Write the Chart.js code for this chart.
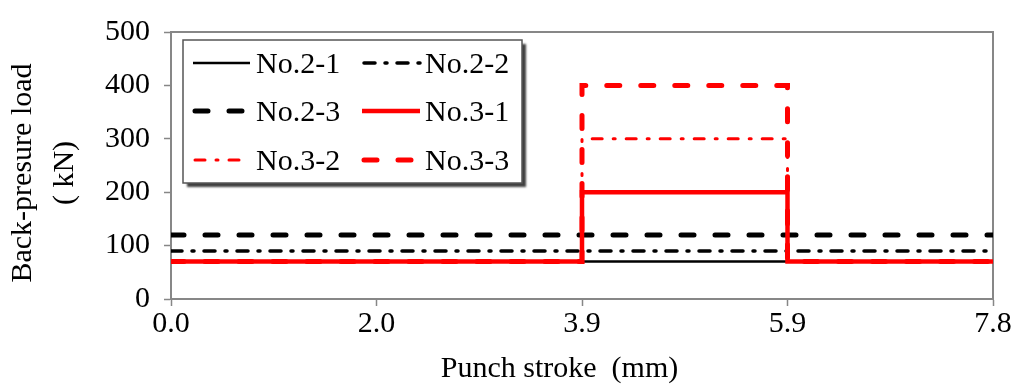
<!DOCTYPE html>
<html>
<head>
<meta charset="utf-8">
<script src="https://cdn.jsdelivr.net/npm/chart.js@4/dist/chart.umd.min.js"></script>
<style>
  html, body { margin: 0; padding: 0; background: #fff; }
  #wrap { width: 1011px; height: 388px; }
</style>
</head>
<body>
<div id="wrap"><canvas id="c" width="1011" height="388"></canvas></div>
<script>
// ---- data ----
const strokeX = [0, 3.9, 3.9, 5.85, 5.85, 7.8];          // punch stroke (mm)
const load21 = [70, 70, 70, 70, 70, 70];                 // No.2-1
const load22 = [90, 90, 90, 90, 90, 90];                 // No.2-2
const load23 = [120, 120, 120, 120, 120, 120];           // No.2-3
const load31 = [70, 70, 200, 200, 70, 70];               // No.3-1
const load32 = [70, 70, 300, 300, 70, 70];               // No.3-2
const load33 = [70, 70, 400, 400, 70, 70];               // No.3-3
const seriesNames = ['No.2-1', 'No.2-2', 'No.2-3', 'No.3-1', 'No.3-2', 'No.3-3'];
const xTickValues = [0, 1.95, 3.9, 5.85, 7.8];
const xTickLabels = ['0.0', '2.0', '3.9', '5.9', '7.8'];
const yTickValues = [0, 100, 200, 300, 400, 500];

const FONT = "'Liberation Serif', 'Times New Roman', serif";
const GRAY = '#878787';

function pts(arr) { return strokeX.map((x, i) => ({ x: x, y: arr[i] })); }

const styles = [
  { color: '#000000', width: 2.5, dash: [],                 cap: 'butt',  order: 5 },
  { color: '#000000', width: 3.5, dash: [11, 10, 2, 10],    cap: 'round', order: 4 },
  { color: '#000000', width: 5,   dash: [13, 21],           cap: 'round', order: 3 },
  { color: '#ff0000', width: 4.5, dash: [],                 cap: 'butt',  order: 0 },
  { color: '#ff0000', width: 3,   dash: [10, 11, 2, 11],    cap: 'round', order: 2 },
  { color: '#ff0000', width: 5,   dash: [13, 21],           cap: 'round', order: 1 }
];
const seriesData = [load21, load22, load23, load31, load32, load33];

const datasets = seriesData.map((arr, i) => ({
  label: seriesNames[i],
  data: pts(arr),
  borderColor: styles[i].color,
  backgroundColor: styles[i].color,
  borderWidth: styles[i].width,
  borderDash: styles[i].dash,
  borderCapStyle: styles[i].cap,
  borderJoinStyle: 'miter',
  pointRadius: 0,
  tension: 0,
  fill: false,
  order: styles[i].order
}));

const plotBox = {
  id: 'plotBox',
  beforeDatasetsDraw(chart) {
    const a = chart.chartArea, ctx = chart.ctx;
    ctx.save();
    ctx.strokeStyle = GRAY;
    ctx.lineWidth = 2;
    ctx.beginPath();
    ctx.moveTo(a.left, a.top);
    ctx.lineTo(a.right, a.top);
    ctx.lineTo(a.right, a.bottom);
    ctx.stroke();
    ctx.restore();
  }
};

const boxLegend = {
  id: 'boxLegend',
  afterDraw(chart) {
    const ctx = chart.ctx;
    const bx = 183, by = 40, bw = 339, bh = 143;
    ctx.save();
    ctx.shadowColor = 'rgba(0,0,0,0.75)';
    ctx.shadowOffsetX = 4;
    ctx.shadowOffsetY = 4;
    ctx.shadowBlur = 2;
    ctx.fillStyle = '#ffffff';
    ctx.fillRect(bx, by, bw, bh);
    ctx.restore();
    ctx.save();
    ctx.strokeStyle = '#555555';
    ctx.lineWidth = 1.5;
    ctx.strokeRect(bx, by, bw, bh);
    const rows = [63, 111, 160];
    const cols = [{ l0: 193, l1: 250, t: 256 }, { l0: 362, l1: 420, t: 425 }];
    ctx.font = '30px ' + FONT;
    ctx.textBaseline = 'alphabetic';
    ctx.textAlign = 'left';
    chart.data.datasets.forEach((ds, i) => {
      const r = rows[Math.floor(i / 2)], c = cols[i % 2];
      ctx.beginPath();
      ctx.strokeStyle = ds.borderColor;
      ctx.lineWidth = ds.borderWidth;
      ctx.setLineDash(ds.borderDash);
      ctx.lineCap = ds.borderCapStyle;
      ctx.moveTo(c.l0 + (ds.borderCapStyle === 'round' ? 2 : 0), r);
      ctx.lineTo(c.l1, r);
      ctx.stroke();
      ctx.setLineDash([]);
      ctx.fillStyle = '#000';
      ctx.fillText(ds.label, c.t, r + 10);
    });
    ctx.restore();
  }
};

new Chart(document.getElementById('c'), {
  type: 'line',
  data: { datasets: datasets },
  plugins: [plotBox, boxLegend],
  options: {
    responsive: false,
    animation: false,
    events: [],
    layout: { padding: { left: 0, right: 18, top: 23, bottom: 0 } },
    plugins: { legend: { display: false }, tooltip: { enabled: false } },
    scales: {
      x: {
        type: 'linear',
        min: 0, max: 7.8,
        afterBuildTicks(scale) { scale.ticks = xTickValues.map(v => ({ value: v })); },
        afterFit(scale) { scale.height = 89; scale.paddingLeft = 0; scale.paddingRight = 0; },
        ticks: {
          autoSkip: false, maxRotation: 0, padding: 0, color: '#000',
          font: { family: FONT, size: 30 },
          callback(v, i) { return xTickLabels[i]; }
        },
        grid: { drawOnChartArea: false, tickLength: 7, tickColor: GRAY, tickWidth: 1.5 },
        border: { color: GRAY, width: 2 },
        title: {
          display: true, text: 'Punch stroke  (mm)      ', color: '#000',
          font: { family: FONT, size: 30, lineHeight: 1.2 },
          padding: { top: 0, bottom: 1 }
        }
      },
      y: {
        min: 0, max: 500,
        afterBuildTicks(scale) { scale.ticks = yTickValues.map(v => ({ value: v })); },
        afterFit(scale) { scale.width = 171; },
        ticks: {
          padding: 14, color: '#000',
          font: { family: FONT, size: 30 }
        },
        grid: { drawOnChartArea: false, tickLength: 7, tickColor: GRAY, tickWidth: 1.5 },
        border: { color: GRAY, width: 2 },
        title: {
          display: true, text: ['Back-presure load  ', '( kN)  '], color: '#000',
          font: { family: FONT, size: 30, lineHeight: 1.4 },
          padding: { top: 2, bottom: 0 }
        }
      }
    }
  }
});
</script>
</body>
</html>
